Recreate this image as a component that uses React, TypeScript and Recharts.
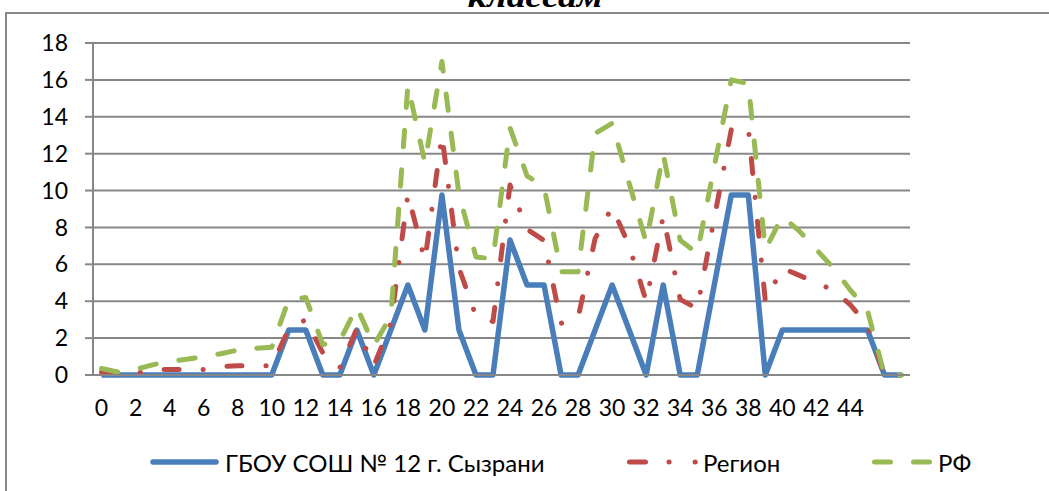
import React from 'react';
import { LineChart, Line, XAxis, YAxis, CartesianGrid } from 'recharts';

const categories = [0, 1, 2, 3, 4, 5, 6, 7, 8, 9, 10, 11, 12, 13, 14, 15, 16, 17, 18, 19, 20, 21, 22, 23, 24, 25, 26, 27, 28, 29, 30, 31, 32, 33, 34, 35, 36, 37, 38, 39, 40, 41, 42, 43, 44, 45, 46, 47];
const xTickLabels = [0, 2, 4, 6, 8, 10, 12, 14, 16, 18, 20, 22, 24, 26, 28, 30, 32, 34, 36, 38, 40, 42, 44];
const yTicks = [0, 2, 4, 6, 8, 10, 12, 14, 16, 18];

const schoolValues = [0, 0, 0, 0, 0, 0, 0, 0, 0, 0, 0, 2.44, 2.44, 0, 0, 2.44, 0, 2.44, 4.88, 2.44, 9.76, 2.44, 0, 0, 7.32, 4.88, 4.88, 0, 0, 2.44, 4.88, 2.44, 0, 4.88, 0, 0, 4.88, 9.76, 9.76, 0, 2.44, 2.44, 2.44, 2.44, 2.44, 2.44, 0, 0];
const regionValues = [0.15, 0.05, 0.1, 0.3, 0.3, 0.3, 0.3, 0.45, 0.5, 0.5, 0.5, 2.5, 3.0, 1.2, 0.4, 2.5, 0.5, 2.8, 9.8, 6.2, 13.0, 5.8, 3.2, 2.9, 10.3, 7.9, 7.3, 2.8, 3.1, 7.4, 9.1, 7.0, 4.0, 8.6, 4.1, 3.6, 8.5, 13.3, 13.4, 4.0, 5.8, 5.4, 5.0, 4.6, 3.8, 2.7, 0, 0];
const rfValues = [0.35, 0.15, 0.3, 0.55, 0.75, 0.85, 1.0, 1.15, 1.35, 1.45, 1.5, 4.1, 4.2, 1.65, 1.85, 3.7, 1.6, 3.2, 15.7, 11.5, 17.0, 9.8, 6.4, 6.3, 13.4, 10.8, 10.2, 5.6, 5.6, 13.1, 13.65, 10.4, 7.2, 12.0, 7.3, 6.6, 11.3, 16.0, 15.8, 6.8, 8.6, 7.8, 6.8, 5.8, 4.6, 3.5, 0, 0];

const seriesNames = ['ГБОУ СОШ № 12 г. Сызрани', 'Регион', 'РФ'];
const titleText = 'классам';

const COLORS = { school: '#4A7EBB', region: '#BE4B48', rf: '#98B954' };
const GRID = '#878787';
const FONT = 'Lato, "Liberation Sans", sans-serif';

const data = categories.map((c, i) => ({
  x: c,
  school: schoolValues[i],
  region: regionValues[i],
  rf: rfValues[i],
}));

const boundaryTicks = categories.map((c) => c - 0.5).concat([categories[categories.length - 1] + 0.5]);
const xDomain = [boundaryTicks[0], boundaryTicks[boundaryTicks.length - 1]];

const REGION_DASH = '15 24 0.1 24';
const RF_DASH = '16.5 23';

export default function App() {
  return (
    <div style={{ position: 'fixed', left: 0, top: 0, width: 1049, height: 491, overflow: 'hidden', background: '#fff' }}>
      <div style={{ position: 'absolute', left: 5, top: 12, width: 1200, height: 700, borderLeft: `2px solid ${GRID}`, borderTop: `2px solid ${GRID}`, boxSizing: 'border-box' }} />
      <div style={{ position: 'absolute', left: 0, top: 0 }}>
        <LineChart width={1049} height={491} data={data} margin={{ top: 43, right: 139, left: 0, bottom: 76 }}>
          <CartesianGrid xAxisId="main" vertical={false} stroke={GRID} strokeWidth={2} />
          <XAxis
            xAxisId="marks"
            type="number"
            dataKey="x"
            domain={xDomain}
            allowDataOverflow
            ticks={boundaryTicks}
            interval={0}
            tick={false}
            tickSize={8}
            tickLine={{ stroke: GRID, strokeWidth: 2 }}
            axisLine={false}
            height={0}
          />
          <XAxis
            xAxisId="main"
            type="number"
            dataKey="x"
            domain={xDomain}
            allowDataOverflow
            ticks={xTickLabels}
            interval={0}
            tickLine={false}
            tickSize={0}
            tickMargin={25}
            axisLine={{ stroke: GRID, strokeWidth: 2 }}
            tick={{ fontSize: 23, fill: '#000', fontFamily: FONT }}
            height={40}
          />
          <YAxis
            type="number"
            domain={[0, 18]}
            ticks={yTicks}
            interval={0}
            width={93}
            tickSize={8}
            tickMargin={17}
            tickLine={{ stroke: GRID, strokeWidth: 2 }}
            axisLine={{ stroke: GRID, strokeWidth: 2 }}
            tick={{ fontSize: 23, fill: '#000', fontFamily: FONT }}
          />
          <Line xAxisId="main" type="linear" dataKey="school" name={seriesNames[0]} stroke={COLORS.school} strokeWidth={5.5} strokeLinejoin="round" dot={false} isAnimationActive={false} />
          <Line xAxisId="main" type="linear" dataKey="region" name={seriesNames[1]} stroke={COLORS.region} strokeWidth={5} strokeDasharray={REGION_DASH} strokeLinecap="round" strokeLinejoin="round" dot={false} isAnimationActive={false} />
          <Line xAxisId="main" type="linear" dataKey="rf" name={seriesNames[2]} stroke={COLORS.rf} strokeWidth={5} strokeDasharray={RF_DASH} strokeLinecap="round" strokeLinejoin="round" dot={false} isAnimationActive={false} />
        </LineChart>
      </div>
      <svg width={1049} height={491} style={{ position: 'absolute', left: 0, top: 0, pointerEvents: 'none' }}>
        <text x={535} y={6.5} textAnchor="middle" fontFamily='"Liberation Serif", serif' fontWeight="bold" fontStyle="italic" fontSize={30} textLength={135} lengthAdjust="spacingAndGlyphs">{titleText}</text>
        <line x1={153} y1={462} x2={216} y2={462} stroke={COLORS.school} strokeWidth={5.5} strokeLinecap="round" />
        <text x={225} y={462} dominantBaseline="central" fontFamily={FONT} fontSize={24} fill="#000">{seriesNames[0]}</text>
        <path d="M629.5 462 H696" stroke={COLORS.region} strokeWidth={5} strokeLinecap="round" strokeDasharray="16 23.5 0.1 26 0.1 200" fill="none" />
        <text x={703} y={462} dominantBaseline="central" fontFamily={FONT} fontSize={24} fill="#000">{seriesNames[1]}</text>
        <path d="M874.5 462 H930" stroke={COLORS.rf} strokeWidth={5} strokeLinecap="round" strokeDasharray="16 23" fill="none" />
        <text x={938} y={462} dominantBaseline="central" fontFamily={FONT} fontSize={24} fill="#000">{seriesNames[2]}</text>
      </svg>
    </div>
  );
}
